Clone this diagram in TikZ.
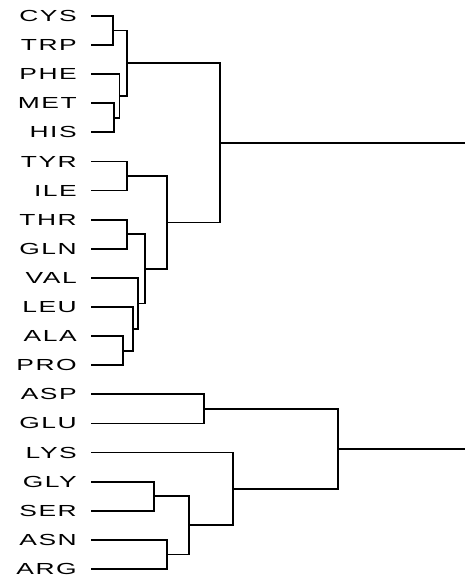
\documentclass[tikz,border=0pt]{standalone}
\usepackage{fontspec}
\usepackage{graphicx}
\usepackage{tikz}
\usetikzlibrary{positioning}
\newfontfamily\aminofont[LetterSpace=6]{Liberation Sans}
\newcommand\aminolabel[1]{\scalebox{1.65}[1]{\aminofont\fontsize{16}{16}\selectfont #1}}

\begin{document}
\begin{tikzpicture}[x=1pt,y=-1pt]
    % Define styles
    \tikzstyle{leaf} = [anchor=east, inner xsep=14pt, inner ysep=0pt]
    \tikzstyle{branch} = [line width=1.8pt]

    \useasboundingbox (0,0) rectangle (465,577);

    % Amino acids
    \node[leaf] (cys) at (91,16.0) {\aminolabel{CYS}};
    \node[leaf] (trp) at (91,45.1) {\aminolabel{TRP}};
    \node[leaf] (phe) at (91,74.2) {\aminolabel{PHE}};
    \node[leaf] (met) at (91,103.3) {\aminolabel{MET}};
    \node[leaf] (his) at (91,132.4) {\aminolabel{HIS}};
    \node[leaf] (tyr) at (91,161.5) {\aminolabel{TYR}};
    \node[leaf] (ile) at (91,190.6) {\aminolabel{ILE}};
    \node[leaf] (thr) at (91,219.7) {\aminolabel{THR}};
    \node[leaf] (gln) at (91,248.8) {\aminolabel{GLN}};
    \node[leaf] (val) at (91,277.9) {\aminolabel{VAL}};
    \node[leaf] (leu) at (91,307.0) {\aminolabel{LEU}};
    \node[leaf] (ala) at (91,336.1) {\aminolabel{ALA}};
    \node[leaf] (pro) at (91,365.2) {\aminolabel{PRO}};
    \node[leaf] (asp) at (91,394.3) {\aminolabel{ASP}};
    \node[leaf] (glu) at (91,423.4) {\aminolabel{GLU}};
    \node[leaf] (lys) at (91,452.5) {\aminolabel{LYS}};
    \node[leaf] (gly) at (91,481.6) {\aminolabel{GLY}};
    \node[leaf] (ser) at (91,510.7) {\aminolabel{SER}};
    \node[leaf] (asn) at (91,539.8) {\aminolabel{ASN}};
    \node[leaf] (arg) at (91,568.9) {\aminolabel{ARG}};

    % Merge points
    \coordinate (cystrp) at (113,30.5);
    \coordinate (methis) at (114,117.9);
    \coordinate (phemet) at (119.5,96.0);
    \coordinate (cysphe) at (127,63.3);
    \coordinate (tyrile) at (127,176.0);
    \coordinate (thrgln) at (127,234.3);
    \coordinate (alapro) at (123,350.7);
    \coordinate (leuala) at (133,328.8);
    \coordinate (valleu) at (138,303.4);
    \coordinate (thrval) at (145,268.8);
    \coordinate (tyrthr) at (167,222.4);
    \coordinate (upper) at (220,142.9);
    \coordinate (aspglu) at (204,408.9);
    \coordinate (glyser) at (154,496.2);
    \coordinate (asnarg) at (167,554.4);
    \coordinate (glyasn) at (189,525.3);
    \coordinate (lysgly) at (233,488.9);
    \coordinate (lower) at (338,448.9);
    \coordinate (upperend) at (465,142.9);
    \coordinate (lowerend) at (465,448.9);

    % Branches
    \draw[branch] (cys.east) -| (cystrp) |- (trp.east);
    \draw[branch] (met.east) -| (methis) |- (his.east);
    \draw[branch] (phe.east) -| (phemet) |- (methis);
    \draw[branch] (cystrp) -| (cysphe) |- (phemet);
    \draw[branch] (tyr.east) -| (tyrile) |- (ile.east);
    \draw[branch] (thr.east) -| (thrgln) |- (gln.east);
    \draw[branch] (ala.east) -| (alapro) |- (pro.east);
    \draw[branch] (leu.east) -| (leuala) |- (alapro);
    \draw[branch] (val.east) -| (valleu) |- (leuala);
    \draw[branch] (thrgln) -| (thrval) |- (valleu);
    \draw[branch] (tyrile) -| (tyrthr) |- (thrval);
    \draw[branch] (cysphe) -| (upper) |- (tyrthr);
    \draw[branch] (upper) -- (upperend);
    \draw[branch] (asp.east) -| (aspglu) |- (glu.east);
    \draw[branch] (gly.east) -| (glyser) |- (ser.east);
    \draw[branch] (asn.east) -| (asnarg) |- (arg.east);
    \draw[branch] (glyser) -| (glyasn) |- (asnarg);
    \draw[branch] (lys.east) -| (lysgly) |- (glyasn);
    \draw[branch] (aspglu) -| (lower) |- (lysgly);
    \draw[branch] (lower) -- (lowerend);

\end{tikzpicture}
\end{document}
